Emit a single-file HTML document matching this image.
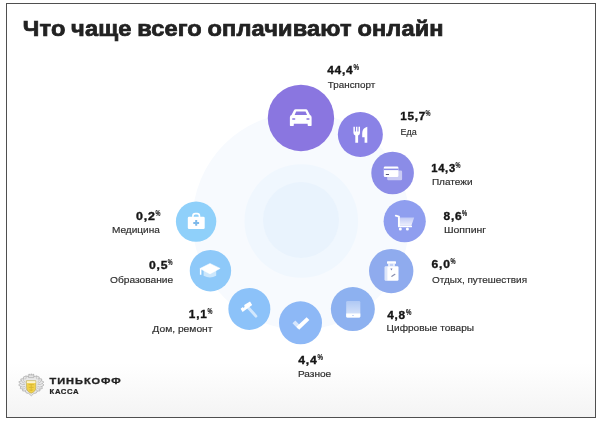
<!DOCTYPE html>
<html lang="ru">
<head>
<meta charset="utf-8">
<title>Что чаще всего оплачивают онлайн</title>
<style>
html,body{margin:0;padding:0;}
body{width:600px;height:422px;overflow:hidden;background:#fff;font-family:"Liberation Sans",sans-serif;position:relative;}
#frame{position:absolute;left:6px;top:3px;width:590px;height:415px;border:1px solid #4f4f4f;box-sizing:border-box;background:linear-gradient(to bottom,#ffffff 0%,#ffffff 87%,#f4f4f4 100%);overflow:hidden;}
#art{position:absolute;left:0;top:0;width:600px;height:422px;}
h1{position:absolute;left:22.8px;top:14.65px;margin:0;font-size:23.6px;line-height:26px;font-weight:bold;color:#222;letter-spacing:0.13px;word-spacing:-1px;-webkit-text-stroke:0.8px #222;transform:scaleY(0.925);white-space:nowrap;transform-origin:0 21px;}
.num{font-size:11.3px;font-weight:bold;fill:#161616;stroke:#161616;stroke-width:0.36px;letter-spacing:0.7px;}
.pct{font-size:8.2px;font-weight:bold;fill:#222;stroke:#222;stroke-width:0.2px;}
.lab{font-size:9.7px;fill:#2e2e2e;stroke:#2e2e2e;stroke-width:0.18px;}
.br1{font-size:9.3px;font-weight:bold;fill:#222;stroke:#222;stroke-width:0.3px;letter-spacing:0.8px;}
.br2{font-size:6.8px;font-weight:bold;fill:#222;stroke:#222;stroke-width:0.2px;letter-spacing:0.5px;}
</style>
</head>
<body>
<div id="frame"></div>
<svg id="art" width="600" height="422" viewBox="0 0 600 422">
  <!-- faint concentric background discs -->
  <circle cx="301" cy="221" r="108.5" fill="#f7fafe"/>
  <circle cx="301.3" cy="221" r="56.8" fill="#f0f7fe"/>
  <circle cx="301" cy="220" r="38" fill="#e9f3fd"/>

  <!-- category circles -->
  <circle cx="300.95" cy="117.95" r="33.2" fill="#8a76e0"/>
  <circle cx="360.35" cy="134.5" r="22.5" fill="#8a82e6"/>
  <circle cx="392.6" cy="173" r="21.3" fill="#8b8ce7"/>
  <circle cx="404.7" cy="221.2" r="21.1" fill="#8f9eef"/>
  <circle cx="391.2" cy="271.1" r="22.2" fill="#8fabee"/>
  <circle cx="352.85" cy="309.05" r="22" fill="#8db1f0"/>
  <circle cx="300.5" cy="322.85" r="21.5" fill="#8db8f6"/>
  <circle cx="249.35" cy="308.9" r="21" fill="#8cc2f9"/>
  <circle cx="210.45" cy="270.7" r="20.7" fill="#8ec9f9"/>
  <circle cx="196.1" cy="221.6" r="20.2" fill="#8fd0fa"/>

  <!-- car -->
  <g transform="translate(300.95,117.6) scale(1.035,1.08) translate(-301.2,-117.7)">
  <path fill="#fff" d="M296.2 110 h9.8 q1.2 0 1.7 1.1 l2.2 4.2 q1.6 0.5 1.6 2.2 v7.3 q0 0.6 -0.6 0.6 h-2.6 q-0.6 0 -0.6 -0.6 v-1.4 h-13.4 v1.4 q0 0.6 -0.6 0.6 h-2.6 q-0.6 0 -0.6 -0.6 v-7.3 q0 -1.7 1.6 -2.2 l2.2 -4.2 q0.5 -1.1 1.9 -1.1z"/>
  <path d="M296.6 112 h9 l1.5 3.2 h-12z" fill="#8a76e0"/>
  <rect x="292.6" y="118.2" width="3.2" height="1.4" rx="0.7" fill="#8a76e0"/>
  <rect x="306.4" y="118.2" width="3.2" height="1.4" rx="0.7" fill="#8a76e0"/>
  </g>

  <!-- fork & knife -->
  <g fill="#fff">
    <path d="M353.4 126.8 h1.5 v4.6 h1.1 v-4.6 h1.4 v4.6 h1.1 v-4.6 h1.5 v6 q0 2 -1.9 2.6 v7.4 h-2.8 v-7.4 q-1.9 -0.6 -1.9 -2.6z"/>
    <path d="M367.3 126.8 v16 h-2.7 v-5.6 h-2.4 v-4 q0 -5 5.1 -6.4z"/>
  </g>

  <!-- cards -->
  <rect x="387.2" y="170.6" width="14.9" height="9.7" rx="1.2" fill="#fff" fill-opacity="0.55"/>
  <rect x="383.8" y="166.6" width="14.6" height="10.4" rx="1.2" fill="#fff"/>
  <rect x="383.8" y="168.6" width="14.6" height="1.5" fill="#8b8ce7"/>
  <rect x="385.8" y="174" width="3.2" height="1" fill="#55557a"/>

  <!-- cart -->
  <defs>
    <linearGradient id="gb" x1="0" y1="0" x2="0" y2="1"><stop offset="0" stop-color="#fff" stop-opacity="0.45"/><stop offset="1" stop-color="#fff" stop-opacity="0.85"/></linearGradient>
    <linearGradient id="gt" x1="0" y1="0" x2="0" y2="1"><stop offset="0" stop-color="#fff" stop-opacity="0.3"/><stop offset="1" stop-color="#fff" stop-opacity="0.7"/></linearGradient>
  </defs>
  <path d="M399 217.6 h15.2 l-2.8 8 h-12.4z" fill="url(#gb)"/>
  <path d="M395.8 215.7 l3.1 0.9 v9.8 h12.2" fill="none" stroke="#fff" stroke-width="1.9" stroke-linejoin="round" stroke-linecap="round"/>
  <circle cx="400.3" cy="229" r="1.5" fill="#fff"/>
  <circle cx="407.4" cy="229" r="1.5" fill="#fff"/>

  <!-- suitcase -->
  <rect x="387" y="261.3" width="9" height="2.5" rx="0.6" fill="#fff"/>
  <rect x="388.3" y="263.5" width="6.4" height="3" fill="#fff"/>
  <rect x="389.6" y="263.8" width="3.8" height="2.2" fill="#8fabee" fill-opacity="0.55"/>
  <rect x="384.6" y="266.2" width="13.9" height="14.5" rx="1.2" fill="#fff"/>
  <rect x="384.6" y="266.2" width="2.8" height="14.5" fill="#8fabee" fill-opacity="0.3"/>
  <path d="M390.3 268.6 h2.2 l-1.1 1.8z" fill="#7b86b8"/>
  <path d="M391.9 276.3 l3 -2" stroke="#8a8fae" stroke-width="1.2" stroke-linecap="round"/>

  <!-- tablet -->
  <rect x="346.2" y="301" width="14.1" height="16.5" rx="1.3" fill="url(#gt)"/>
  <path d="M346.2 313.4 h14.1 v2.8 q0 1.3 -1.3 1.3 h-11.5 q-1.3 0 -1.3 -1.3z" fill="#fff"/>
  <circle cx="353" cy="315.5" r="0.6" fill="#8db1f0"/>

  <!-- check -->
  <path d="M293.9 321.9 l5.4 5.4" fill="none" stroke="#fff" stroke-opacity="0.650" stroke-width="4"/>
  <path d="M297.8 328.3 l10.2 -9.7" fill="none" stroke="#fff" stroke-width="4"/>

  <!-- hammer -->
  <path d="M248.4 307.8 l7.5 8.3" fill="none" stroke="#fff" stroke-opacity="0.6" stroke-width="2.9" stroke-linecap="round"/>
  <path d="M240.6 308.8 l2.3 -1.7 l0.5 0.8 l1.2 -0.8 l-0.4 -2.2 l5.8 -3.4 l2.2 3.4 l-9.6 7z" fill="#fff"/>

  <!-- grad cap -->
  <path d="M203.6 270.6 v5.2 q6.4 3.4 12.6 0 v-5.2z" fill="#fff" fill-opacity="0.550"/>
  <path d="M199.9 268.6 l10.1 -5.1 l10.1 4.9 l-10.1 5.5z" fill="#fff" stroke="#fff" stroke-width="0.5" stroke-linejoin="round"/>
  <path d="M199.9 268.6 l1.5 0.6 v5.6 h-1.5z" fill="#fff"/>

  <!-- med kit -->
  <path d="M192.9 217.4 v-1.4 q0 -2.4 2.4 -2.4 h1.8 q2.4 0 2.4 2.4 v1.4" fill="none" stroke="#fff" stroke-width="1.6"/>
  <rect x="187.8" y="216.7" width="16.9" height="12.4" rx="1.3" fill="#fff"/>
  <path d="M195.2 220 h2 v1.9 h1.9 v2 h-1.9 v1.9 h-2 v-1.9 h-1.9 v-2 h1.9z" fill="#7db9ea"/>

  <!-- crest -->
  <g transform="translate(31.3,384)" stroke-linejoin="round" stroke-linecap="round">
    <path d="M-3 -7.4 L-5.2 -8 L-8 -7 L-7.6 -5.4 L-10.6 -5 L-10 -3.4 L-12.6 -2 L-11 -0.5 L-12.7 1 L-10.6 2.5 L-11 4.6 L-8.6 5 L-8.6 7 L-6 7 L-5 9 L-2.6 9.4 L0 11.8 L2.6 9.4 L5 9 L6 7 L8.6 7 L8.6 5 L11 4.6 L10.6 2.5 L12.7 1 L11 -0.5 L12.6 -2 L10 -3.4 L10.6 -5 L7.6 -5.4 L8 -7 L5.2 -8 L3 -7.4z" fill="#e9e9e9" stroke="#a9a9a9" stroke-width="0.7"/>
    <path d="M-7.6 -5.4 q-1 2.4 1.2 3.6 M-10 -3.4 q0.6 2.4 3 2.6 M-11 -0.5 q1.8 1.8 4.4 1 M-10.6 2.5 q2 1.4 4.2 0 M-8.6 5 q1.6 0.6 2.8 -1 M-6 7 q1.4 -0.4 1.6 -2 M7.6 -5.4 q1 2.4 -1.2 3.6 M10 -3.4 q-0.6 2.4 -3 2.6 M11 -0.5 q-1.8 1.8 -4.4 1 M10.6 2.5 q-2 1.4 -4.2 0 M8.6 5 q-1.6 0.6 -2.8 -1 M6 7 q-1.4 -0.4 -1.6 -2 M-5.2 -8 q0.6 1.6 -0.4 3 M5.2 -8 q-0.6 1.6 0.4 3" fill="none" stroke="#adadad" stroke-width="0.6"/>
    <path d="M-2.8 -9.2 h5.6 l-0.5 2.8 h-4.6z" fill="#e4e4e4" stroke="#a6a6a6" stroke-width="0.6"/>
    <path d="M-2 -9.2 v-0.6 M0 -9.2 v-0.9 M2 -9.2 v-0.6" stroke="#a6a6a6" stroke-width="0.7"/>
    <path d="M-4.7 -3.2 h9.2 v7 q0 3.8 -4.6 5.4 q-4.6 -1.6 -4.6 -5.4z" fill="#f2d24a" stroke="#b5a24d" stroke-width="0.6"/>
    <path d="M-4.4 -2.9 h8.6 v2 h-8.6z" fill="#fbf3cf"/>
    <path d="M-2.4 0.6 h4.6 M-0.1 0.6 v6 M-2.2 3.4 h4.2 M-1.8 6 q1.8 1 3.4 0" stroke="#d9b72f" stroke-width="0.9" fill="none"/>
  </g>
  <text class="br1" x="49.6" y="383.7" textLength="72" lengthAdjust="spacingAndGlyphs">ТИНЬКОФФ</text>
  <text class="br2" x="49.6" y="393.9" textLength="29.5" lengthAdjust="spacingAndGlyphs">КАССА</text>
  <text id="n0" class="num" x="327.15" y="74.00" textLength="26.35" lengthAdjust="spacingAndGlyphs">44,4</text>
  <text id="p0" class="pct" x="353.45" y="70.20" textLength="5.58" lengthAdjust="spacingAndGlyphs">%</text>
  <text id="l0" class="lab" x="327.80" y="88.30" textLength="47.39" lengthAdjust="spacingAndGlyphs">Транспорт</text>
  <text id="n1" class="num" x="400.38" y="120.00" textLength="25.74" lengthAdjust="spacingAndGlyphs">15,7</text>
  <text id="p1" class="pct" x="425.45" y="116.20" textLength="4.99" lengthAdjust="spacingAndGlyphs">%</text>
  <text id="l1" class="lab" x="400.53" y="134.80" textLength="16.23" lengthAdjust="spacingAndGlyphs">Еда</text>
  <text id="n2" class="num" x="431.29" y="171.50" textLength="24.57" lengthAdjust="spacingAndGlyphs">14,3</text>
  <text id="p2" class="pct" x="455.45" y="167.70" textLength="4.99" lengthAdjust="spacingAndGlyphs">%</text>
  <text id="l2" class="lab" x="431.90" y="185.00" textLength="40.60" lengthAdjust="spacingAndGlyphs">Платежи</text>
  <text id="n3" class="num" x="443.54" y="219.50" textLength="18.81" lengthAdjust="spacingAndGlyphs">8,6</text>
  <text id="p3" class="pct" x="461.95" y="215.70" textLength="5.08" lengthAdjust="spacingAndGlyphs">%</text>
  <text id="l3" class="lab" x="443.91" y="233.00" textLength="42.19" lengthAdjust="spacingAndGlyphs">Шоппинг</text>
  <text id="n4" class="num" x="431.55" y="267.50" textLength="19.09" lengthAdjust="spacingAndGlyphs">6,0</text>
  <text id="p4" class="pct" x="450.45" y="263.70" textLength="5.08" lengthAdjust="spacingAndGlyphs">%</text>
  <text id="l4" class="lab" x="432.05" y="282.70" textLength="95.00" lengthAdjust="spacingAndGlyphs">Отдых, путешествия</text>
  <text id="n5" class="num" x="387.26" y="318.50" textLength="18.59" lengthAdjust="spacingAndGlyphs">4,8</text>
  <text id="p5" class="pct" x="405.95" y="314.70" textLength="5.44" lengthAdjust="spacingAndGlyphs">%</text>
  <text id="l5" class="lab" x="386.60" y="331.00" textLength="87.41" lengthAdjust="spacingAndGlyphs">Цифровые товары</text>
  <text id="n6" class="num" x="298.26" y="363.80" textLength="19.24" lengthAdjust="spacingAndGlyphs">4,4</text>
  <text id="p6" class="pct" x="317.45" y="360.00" textLength="5.49" lengthAdjust="spacingAndGlyphs">%</text>
  <text id="l6" class="lab" x="297.90" y="377.00" textLength="33.33" lengthAdjust="spacingAndGlyphs">Разное</text>
  <text id="n7" class="num" x="136.14" y="220.00" textLength="19.61" lengthAdjust="spacingAndGlyphs">0,2</text>
  <text id="p7" class="pct" x="155.45" y="216.20" textLength="4.94" lengthAdjust="spacingAndGlyphs">%</text>
  <text id="l7" class="lab" x="111.91" y="233.00" textLength="47.95" lengthAdjust="spacingAndGlyphs">Медицина</text>
  <text id="n8" class="num" x="149.10" y="269.20" textLength="19.15" lengthAdjust="spacingAndGlyphs">0,5</text>
  <text id="p8" class="pct" x="167.86" y="265.40" textLength="4.79" lengthAdjust="spacingAndGlyphs">%</text>
  <text id="l8" class="lab" x="110.10" y="282.60" textLength="63.10" lengthAdjust="spacingAndGlyphs">Образование</text>
  <text id="n9" class="num" x="188.86" y="318.20" textLength="18.60" lengthAdjust="spacingAndGlyphs">1,1</text>
  <text id="p9" class="pct" x="207.51" y="314.40" textLength="4.94" lengthAdjust="spacingAndGlyphs">%</text>
  <text id="l9" class="lab" x="152.35" y="331.60" textLength="60.15" lengthAdjust="spacingAndGlyphs">Дом, ремонт</text>
</svg>

<h1>Что чаще всего оплачивают онлайн</h1>


</body>
</html>
